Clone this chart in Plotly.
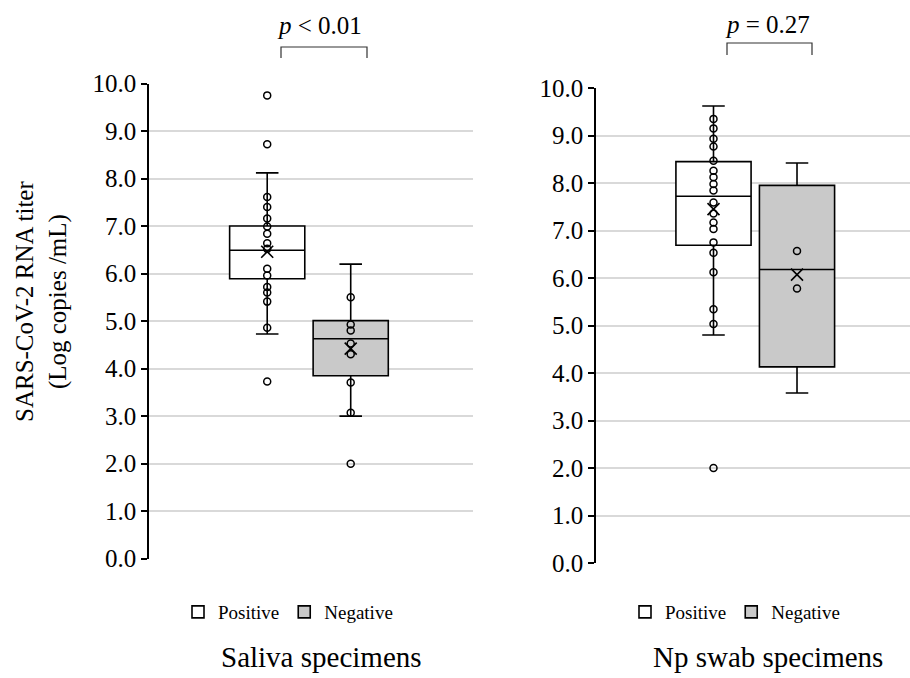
import plotly.graph_objects as go

# ---------------- data ----------------
groups = ["Positive", "Negative"]
fills = ["#ffffff", "#c9c9c9"]
positions = [0, 1]

# Saliva specimens: box statistics [Positive, Negative]
sal_q1 = [5.89, 3.85]
sal_median = [6.49, 4.63]
sal_q3 = [7.00, 5.01]
sal_low = [4.73, 3.00]
sal_high = [8.12, 6.20]
sal_mean = [6.46, 4.42]
sal_pos_points = [9.75, 8.72, 7.61, 7.40, 7.16, 6.99, 6.84, 6.64, 6.52,
                  6.10, 5.96, 5.72, 5.60, 5.41, 4.86, 3.73]
sal_neg_points = [5.50, 4.93, 4.80, 4.53, 4.30, 3.71, 3.07, 2.00]

# Np swab specimens: box statistics [Positive, Negative]
np_q1 = [6.69, 4.13]
np_median = [7.72, 6.18]
np_q3 = [8.45, 7.95]
np_low = [4.80, 3.58]
np_high = [9.62, 8.42]
np_mean = [7.45, 6.07]
np_pos_points = [9.35, 9.15, 8.93, 8.77, 8.47, 8.26, 8.12, 7.98, 7.84, 7.59,
                 7.36, 7.17, 7.03, 6.75, 6.53, 6.12, 5.34, 5.03, 2.00]
np_neg_points = [6.57, 5.78]

p_texts = ["<i>p</i> &lt; 0.01", "<i>p</i> = 0.27"]
captions = ["Saliva specimens", "Np swab specimens"]
y_title = "SARS-CoV-2 RNA titer<br>(Log copies /mL)"
y_ticks = [0, 1, 2, 3, 4, 5, 6, 7, 8, 9, 10]

FONT = "Liberation Serif"

fig = go.Figure()


def add_panel(xa, ya, legend, q1, med, q3, low, high, mean, pts_list):
    for i in range(2):
        fig.add_trace(go.Box(
            x=[positions[i]], q1=[q1[i]], median=[med[i]], q3=[q3[i]],
            lowerfence=[low[i]], upperfence=[high[i]],
            name=groups[i], fillcolor=fills[i],
            line=dict(color="#000000", width=1.6),
            width=0.9, whiskerwidth=0.3, boxpoints=False,
            hoverinfo="skip", xaxis=xa, yaxis=ya, legend=legend,
            showlegend=True,
        ))
    for i in range(2):
        fig.add_trace(go.Scatter(
            x=[positions[i]] * len(pts_list[i]), y=pts_list[i], mode="markers",
            marker=dict(symbol="circle-open", size=7, color="#000000",
                        line=dict(width=1.5, color="#000000")),
            showlegend=False, xaxis=xa, yaxis=ya, cliponaxis=False,
        ))
        fig.add_trace(go.Scatter(
            x=[positions[i]], y=[mean[i]], mode="markers",
            marker=dict(symbol="x-thin-open", size=12, color="#000000",
                        line=dict(width=1.6, color="#000000")),
            showlegend=False, xaxis=xa, yaxis=ya, cliponaxis=False,
        ))


add_panel("x", "y", "legend", sal_q1, sal_median, sal_q3, sal_low, sal_high,
          sal_mean, [sal_pos_points, sal_neg_points])
add_panel("x2", "y2", "legend2", np_q1, np_median, np_q3, np_low, np_high,
          np_mean, [np_pos_points, np_neg_points])

yaxis_common = dict(
    range=[0, 10], tickvals=y_ticks, tickformat=".1f",
    showgrid=True, gridcolor="#d9d9d9", gridwidth=1.5,
    zeroline=False, showline=True, linecolor="#000000", linewidth=1.5,
    ticks="outside", ticklen=6, tickcolor="#000000", tickwidth=1.5,
    tickfont=dict(family=FONT, size=25, color="#000000"),
    automargin=False,
)
xaxis_common = dict(showgrid=False, zeroline=False, showline=False,
                    showticklabels=False, ticks="", automargin=False)

fig.update_layout(
    width=910, height=678, autosize=False,
    margin=dict(l=0, r=0, t=0, b=0, pad=0, autoexpand=False),
    paper_bgcolor="#ffffff", plot_bgcolor="#ffffff",
    font=dict(family=FONT, color="#000000"),
    boxmode="overlay",
    xaxis=dict(domain=[149 / 910, 473 / 910], range=[-1.4156, 2.4645],
               anchor="y", **xaxis_common),
    yaxis=dict(domain=[1 - 558.7 / 678, 1 - 83.5 / 678], anchor="x",
               **yaxis_common),
    xaxis2=dict(domain=[596 / 910, 1.0], range=[-1.407, 2.353],
                anchor="y2", **xaxis_common),
    yaxis2=dict(domain=[1 - 563 / 678, 1 - 88 / 678], anchor="x2",
                **yaxis_common),
    legend=dict(orientation="h", x=178 / 910, y=1 - 612 / 678,
                xanchor="left", yanchor="middle",
                font=dict(family=FONT, size=19, color="#000000"),
                bgcolor="rgba(0,0,0,0)", itemclick=False),
    legend2=dict(orientation="h", x=625 / 910, y=1 - 612 / 678,
                 xanchor="left", yanchor="middle",
                 font=dict(family=FONT, size=19, color="#000000"),
                 bgcolor="rgba(0,0,0,0)", itemclick=False),
)

# p-value annotations and brackets
brackets = [
    (281 / 910, 367 / 910, 1 - 47 / 678, 1 - 58 / 678),
    (727 / 910, 812 / 910, 1 - 43 / 678, 1 - 55 / 678),
]
for (x1, x2, ytop, ybot) in brackets:
    fig.add_shape(type="path", xref="paper", yref="paper",
                  path=f"M {x1},{ybot} L {x1},{ytop} L {x2},{ytop} L {x2},{ybot}",
                  line=dict(color="#333333", width=1.2))

fig.add_annotation(x=319.5 / 910, y=1 - 26 / 678, xref="paper", yref="paper",
                   text=p_texts[0], showarrow=False, xanchor="center",
                   yanchor="middle", font=dict(family=FONT, size=25))
fig.add_annotation(x=767.5 / 910, y=1 - 24 / 678, xref="paper", yref="paper",
                   text=p_texts[1], showarrow=False, xanchor="center",
                   yanchor="middle", font=dict(family=FONT, size=25))

fig.add_annotation(x=321.5 / 910, y=1 - 657 / 678, xref="paper", yref="paper",
                   text=captions[0], showarrow=False, xanchor="center",
                   yanchor="middle", font=dict(family=FONT, size=29))
fig.add_annotation(x=768 / 910, y=1 - 657 / 678, xref="paper", yref="paper",
                   text=captions[1], showarrow=False, xanchor="center",
                   yanchor="middle", font=dict(family=FONT, size=29))

fig.add_annotation(x=42 / 910, y=1 - 302 / 678, xref="paper", yref="paper",
                   text=y_title, showarrow=False, textangle=-90,
                   xanchor="center", yanchor="middle",
                   font=dict(family=FONT, size=25))

fig.write_html("out.html")
